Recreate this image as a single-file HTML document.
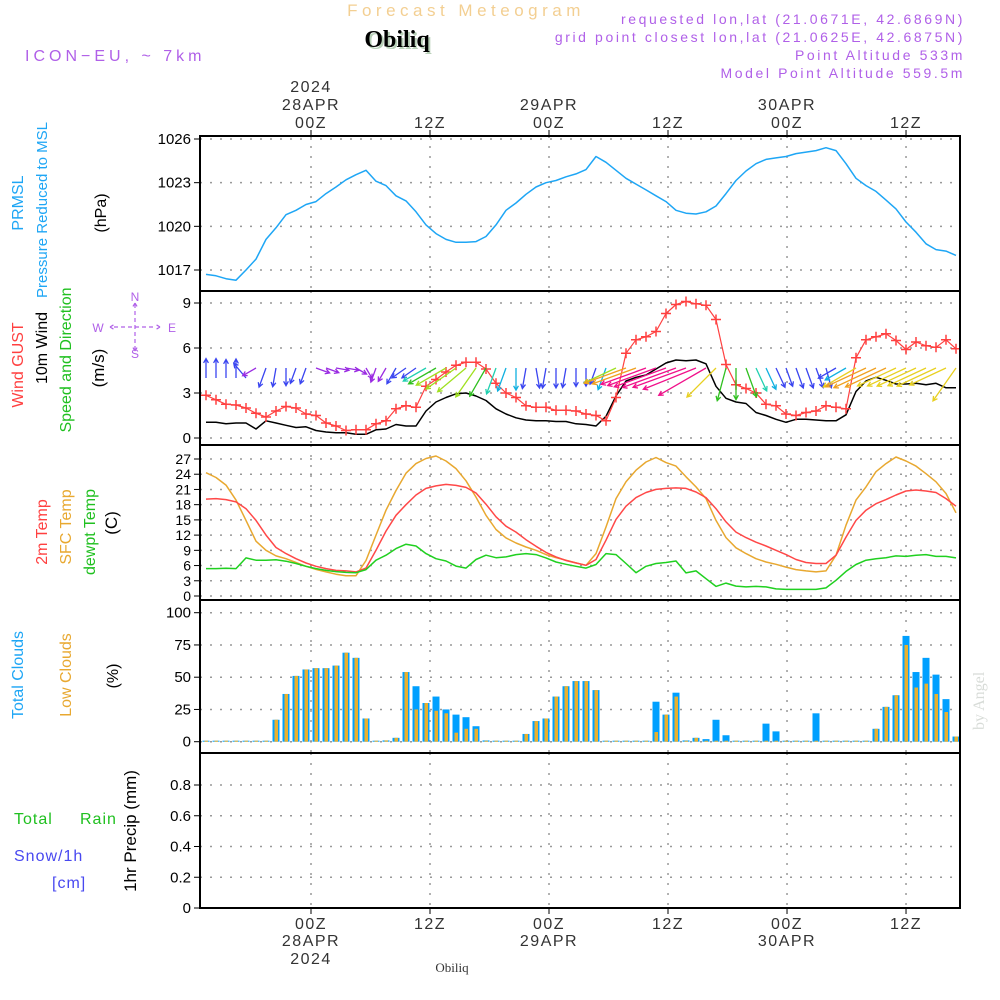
<!DOCTYPE html>
<html><head><meta charset="utf-8">
<style>
html,body{margin:0;padding:0;background:#fff;}
svg{display:block;font-family:"Liberation Sans",sans-serif;}
</style></head>
<body>
<svg id="chart" width="1000" height="1000" viewBox="0 0 1000 1000" xmlns="http://www.w3.org/2000/svg">
<rect x="0" y="0" width="1000" height="1000" fill="#fff"/>
<text x="466" y="16" text-anchor="middle" font-size="17" fill="#f3cf92" letter-spacing="4.5">Forecast Meteogram</text>
<text x="399" y="49" text-anchor="middle" font-size="24" font-weight="bold" font-family="Liberation Serif,serif" fill="#b8d0b8">Obiliq</text>
<text x="397" y="47" text-anchor="middle" font-size="24" font-weight="bold" font-family="Liberation Serif,serif" fill="#000">Obiliq</text>
<text x="25" y="61" font-size="16" fill="#b060e8" letter-spacing="4">ICON−EU, ~ 7km</text>
<g font-size="14" fill="#b060e8" text-anchor="end" letter-spacing="2.6">
<text x="965" y="24">requested lon,lat (21.0671E, 42.6869N)</text>
<text x="965" y="42">grid point closest lon,lat (21.0625E, 42.6875N)</text>
<text x="965" y="60">Point Altitude 533m</text>
<text x="965" y="78">Model Point Altitude 559.5m</text>
</g>
<text transform="translate(984,730) rotate(-90)" font-size="16" fill="#d8dcd8" font-family="Liberation Serif,serif">by Angel</text>
<text x="452" y="972" text-anchor="middle" font-size="13" font-family="Liberation Serif,serif" fill="#333">Obiliq</text>
<g id="labels" font-size="16"></g>
<g id="grid"></g>
<g id="marks"></g>
<g id="frames"></g>
</svg>
<script>
// ---- data (hourly, index 0..75) ----
const pressure = [1016.7,1016.6,1016.4,1016.3,1017.0,1017.75,1019.1,1019.9,1020.8,1021.1,1021.5,1021.7,1022.25,1022.7,1023.2,1023.55,1023.85,1023.1,1022.8,1022.1,1021.75,1021.0,1020.1,1019.5,1019.1,1018.9,1018.9,1018.95,1019.3,1020.1,1021.1,1021.6,1022.2,1022.7,1023.0,1023.15,1023.4,1023.6,1023.9,1024.8,1024.4,1023.85,1023.3,1022.9,1022.5,1022.1,1021.7,1021.1,1020.9,1020.85,1021.0,1021.4,1022.25,1023.15,1023.8,1024.3,1024.6,1024.7,1024.8,1025.0,1025.1,1025.2,1025.4,1025.2,1024.3,1023.3,1022.8,1022.4,1021.8,1021.2,1020.3,1019.6,1018.8,1018.4,1018.3,1018.0];
const gust = [2.85,2.55,2.25,2.2,2.0,1.65,1.4,1.8,2.1,2.0,1.6,1.5,1.0,0.8,0.5,0.55,0.55,0.95,1.15,1.95,2.15,2.05,3.45,3.9,4.4,4.85,5.05,5.05,4.6,3.65,3.0,2.7,2.15,2.05,2.05,1.85,1.85,1.8,1.6,1.5,1.15,2.7,5.65,6.55,6.75,7.1,8.3,8.9,9.1,8.95,8.85,7.9,4.9,3.55,3.3,3.0,2.25,2.15,1.6,1.5,1.7,1.8,2.15,2.05,1.95,5.35,6.55,6.75,6.95,6.5,5.9,6.4,6.15,6.05,6.55,5.95];
const wind10m = [1.05,1.05,0.95,1.0,1.0,0.6,1.15,1.0,0.85,0.7,0.75,0.5,0.4,0.35,0.35,0.25,0.25,0.55,0.6,0.9,0.8,0.8,1.8,2.4,2.7,2.95,3.0,2.8,2.5,1.95,1.6,1.35,1.2,1.15,1.15,1.1,1.1,0.95,0.9,0.8,1.45,2.8,3.8,4.05,4.2,4.6,5.0,5.2,5.15,5.2,4.95,3.45,2.65,2.4,2.3,1.7,1.5,1.25,1.05,1.25,1.25,1.2,1.15,1.15,1.55,3.1,3.8,4.05,3.85,3.6,3.6,3.65,3.55,3.65,3.35,3.35];
const windDirTo = [0,0,0,0,320,240,200,190,180,200,200,110,110,100,100,120,150,200,210,210,235,235,240,240,240,235,230,215,210,200,200,180,190,170,190,180,190,180,180,200,200,245,250,250,250,250,250,250,250,248,240,225,195,180,160,155,155,155,160,160,160,160,165,240,240,240,245,245,245,245,245,245,245,245,245,215];
const temp2m = [19.1,19.2,19.0,18.55,17.2,14.9,12.0,9.55,8.35,7.35,6.5,5.85,5.4,5.05,4.95,4.75,5.5,9.0,12.8,15.9,18.0,19.9,21.2,21.7,22.0,21.8,21.4,20.3,18.1,15.6,13.75,12.6,11.1,9.8,8.6,7.7,7.0,6.5,6.05,7.2,11.0,15.1,17.7,19.4,20.4,21.0,21.2,21.3,21.2,20.5,19.4,17.2,14.6,12.6,11.5,10.6,9.85,9.0,8.15,7.2,6.6,6.4,6.4,8.05,11.6,14.9,16.9,18.2,19.0,19.9,20.7,20.9,20.7,20.4,19.2,17.7];
const tempSfc = [24.3,23.35,21.85,18.9,14.9,10.8,9.0,7.9,7.35,6.6,5.85,5.25,4.75,4.3,4.0,4.0,7.0,12.0,16.9,20.8,24.2,26.1,27.1,27.6,26.6,25.1,22.7,19.5,15.9,13.1,11.45,10.45,9.65,9.0,8.15,7.55,7.05,6.55,6.05,8.35,13.6,19.2,22.5,24.8,26.4,27.3,26.3,25.6,23.5,21.5,19.2,14.9,11.5,9.5,8.35,7.35,6.7,6.25,5.7,5.2,4.95,4.75,4.95,8.05,13.95,18.9,21.5,24.5,26.1,27.4,26.6,25.6,24.1,22.5,20.2,16.4];
const dewpoint = [5.4,5.4,5.45,5.4,7.5,7.05,7.05,7.15,6.85,6.4,5.85,5.4,5.05,4.8,4.65,4.6,5.2,7.05,8.05,9.35,10.2,9.85,8.35,7.35,6.9,5.9,5.5,7.2,8.05,7.55,7.7,8.15,8.35,8.15,7.5,6.7,6.25,5.85,5.5,6.2,8.35,8.15,6.4,4.6,5.85,6.4,6.6,6.9,4.55,4.95,3.4,1.9,2.55,1.95,1.8,1.9,1.8,1.4,1.3,1.3,1.3,1.3,1.6,3.1,4.85,6.2,7.05,7.35,7.55,7.9,7.8,8.05,8.15,7.8,7.8,7.5];
const totalClouds = [0,0,0,0,0,0,0,17,37,51,56,57,57,59,69,65,18,0,1,3,54,43,30,35,25,21,19,12,1,0,0,0,6,16,18,35,43,47,47,40,0,0,0,0,0,31,21,38,1,3,2,17,5,0,0,0,14,8,0,0,0,22,0,0,0,0,0,10,27,36,82,54,65,52,33,4];
const lowClouds = [0,0,0,0,0,0,0,17,37,51,56,57,57,59,69,65,18,0,1,3,54,25,30,24,22,7,10,10,0,0,0,0,6,16,18,35,43,47,47,40,0,0,0,0,0,7.5,21,35,0,3,0,0,0,0,0,0,0,0,0,0,0,0,0,0,0,0,0,10,27,36,75,42,45,37,23,4];
const precip = new Array(76).fill(0);
const pTicks = [1017,1020,1023,1026];
const wTicks = [0,3,6,9];
const tTicks = [0,3,6,9,12,15,18,21,24,27];
const cTicks = [0,25,50,75,100];
const rTicks = [0,0.2,0.4,0.6,0.8];
const timeTickHours = [0,12,24,36,48,60];
const timeTickLabels = ["00Z","12Z","00Z","12Z","00Z","12Z"];
const dateLabels = {0:["28APR","2024"],24:["29APR"],48:["30APR"]};

// ---- scales ----
const NS="http://www.w3.org/2000/svg";
const X0=200, X1=960;
function xi(i){return 206+i*10;}
function xh(h){return 311+h*9.917;}
function lin(d0,d1,r0,r1){return v=>r0+(v-d0)*(r1-r0)/(d1-d0);}
const panels=[
 {top:136,bot:291,y:lin(1017,1026,270,139),ticks:pTicks,name:'pressure'},
 {top:291,bot:445,y:lin(0,9,438,303),ticks:wTicks,name:'wind'},
 {top:445,bot:600,y:lin(0,27,596,459),ticks:tTicks,name:'temperature'},
 {top:600,bot:753,y:lin(0,100,741.7,612.7),ticks:cTicks,name:'clouds'},
 {top:753,bot:908,y:lin(0,0.8,908,785),ticks:rTicks,name:'precip'}
];
function el(tag,attrs,parent,txt){const e=document.createElementNS(NS,tag);for(const k in attrs)e.setAttribute(k,attrs[k]);if(txt!==undefined)e.textContent=txt;parent.appendChild(e);return e;}
const G=document.getElementById('grid'),M=document.getElementById('marks'),F=document.getElementById('frames'),L=document.getElementById('labels');

// grid + ticks
panels.forEach((p,pi)=>{
  p.ticks.forEach(t=>{
    const y=p.y(t);
    const g=el('line',{x1:X0,x2:X1,y1:y,y2:y,stroke:'#999','stroke-dasharray':'2,8','stroke-width':1.5},G);
    
    
    el('line',{x1:X0-6,x2:X0,y1:y,y2:y,stroke:'#000','stroke-width':1},F);
    const lab=el('text',{x:X0-9,y:y+5,'text-anchor':'end','font-size':pi==2?14:15,fill:'#000'},F,String(t));
    
    
  });
  timeTickHours.forEach(h=>{
    const x=xh(h);
    const g=el('line',{x1:x,x2:x,y1:p.top,y2:p.bot,stroke:'#999','stroke-dasharray':'2,8','stroke-width':1.5},G);
    
    
  });
  const fr=el('rect',{x:X0,y:p.top,width:X1-X0,height:p.bot-p.top,fill:'none',stroke:'#000','stroke-width':2},F);
  
  
});
// time axis labels top and bottom
timeTickHours.forEach((h,k)=>{
  const x=xh(h);
  el('line',{x1:x,x2:x,y1:130,y2:136,stroke:'#000'},F);
  el('line',{x1:x,x2:x,y1:908,y2:914,stroke:'#000'},F);
  const t=el('text',{x:x,y:128,'text-anchor':'middle','font-size':16,fill:'#333','letter-spacing':1.5},F,timeTickLabels[k]);
  
  
  const b=el('text',{x:x,y:929,'text-anchor':'middle','font-size':16,fill:'#333','letter-spacing':1.5},F,timeTickLabels[k]);
  
  
  if(dateLabels[h]){
    const d=dateLabels[h];
    const t1=el('text',{x:x,y:110,'text-anchor':'middle','font-size':16,fill:'#333','letter-spacing':1.5},F,d[0]);
    
    
    const b1=el('text',{x:x,y:946,'text-anchor':'middle','font-size':16,fill:'#333','letter-spacing':1.5},F,d[0]);
    
    
    if(d[1]){
      const t2=el('text',{x:x,y:92,'text-anchor':'middle','font-size':16,fill:'#333','letter-spacing':1.5},F,d[1]);
      
      
      const b2=el('text',{x:x,y:964,'text-anchor':'middle','font-size':16,fill:'#333','letter-spacing':1.5},F,d[1]);
      
      
    }
  }
});

function line(arr,yf,color,name,w,dash){
  const pts=arr.map((v,i)=>xi(i).toFixed(1)+','+yf(v).toFixed(1)).join(' ');
  const attrs={points:pts,fill:'none',stroke:color,'stroke-width':w||1.5,'stroke-linejoin':'round'};
  if(dash) attrs['stroke-dasharray']=dash;
  const l=el('polyline',attrs,M);
  
  
}
// panel 1
line(pressure,panels[0].y,'#1ea6f5','pressure-line');
// panel 2
line(wind10m,panels[1].y,'#000','wind-10m-line');
line(gust,panels[1].y,'#ff4040','wind-gust-line',1.2);
gust.forEach((v,i)=>{
  const x=xi(i),y=panels[1].y(v);
  const g=el('path',{d:`M${x-5},${y}H${x+5}M${x},${y-5}V${y+5}`,stroke:'#ff4040','stroke-width':1.5},M);
  
  
});
function speedColor(s){
  if(s<0.7) return '#9a2be2';
  if(s<1.3) return '#3a45f0';
  if(s<1.7) return '#10b0e0';
  if(s<2.2) return '#20d0b0';
  if(s<2.7) return '#30c020';
  if(s<3.1) return '#a0e020';
  if(s<3.7) return '#e8d020';
  if(s<4.1) return '#f0a020';
  return '#f0108a';
}
windDirTo.forEach((d,i)=>{
  const s=wind10m[i];
  const len=10+s*9;
  const a=d*Math.PI/180;
  const dx=Math.sin(a)*len, dy=-Math.cos(a)*len;
  const x0=xi(i), y0= dy<0 ? 378 : 368;
  const x1=x0+dx, y1=y0+dy;
  const c=speedColor(s);
  const ha=Math.atan2(y1-y0,x1-x0);
  const h1x=x1-5*Math.cos(ha-0.5),h1y=y1-5*Math.sin(ha-0.5),h2x=x1-5*Math.cos(ha+0.5),h2y=y1-5*Math.sin(ha+0.5);
  const ar=el('path',{d:`M${x0},${y0}L${x1},${y1}M${h1x},${h1y}L${x1},${y1}L${h2x},${h2y}`,stroke:c,'stroke-width':1.3,fill:'none'},M);
  
  
});
// panel 3
line(tempSfc,panels[2].y,'#e8a830','sfc-temp-line');
line(temp2m,panels[2].y,'#ff4848','temp-2m-line');
line(dewpoint,panels[2].y,'#20d020','dewpoint-line');
// panel 4
totalClouds.forEach((v,i)=>{
  const y=panels[3].y, x=xi(i);
  const b=el('rect',{x:x-3.5,y:Math.min(y(v),y(0)-1),width:7,height:Math.max(y(0)-y(v),1),fill:'#00a0ff'},M);
  
  
  const lv=lowClouds[i];
  const o=el('rect',{x:x-1.5,y:Math.min(y(lv),y(0)-1),width:3.5,height:Math.max(y(0)-y(lv),1),fill:'#e8b030'},M);
  
  
});
// panel 5
line(precip,panels[4].y,'#000','precip-line',1.5,'5,3');

// left labels
function vlab(txt,x,cy,color,name,size){
  const t=el('text',{transform:`translate(${x},${cy}) rotate(-90)`,'text-anchor':'middle',fill:color,'font-size':size||16},L,txt);
  
  
}
vlab('PRMSL',23,203,'#1ea6f5','prmsl-label');
vlab('Pressure Reduced to MSL',47,210,'#1ea6f5','pressure-label',15);
vlab('(hPa)',106,213,'#000','hpa-unit-label');
vlab('Wind GUST',23,365,'#ff4040','wind-gust-label');
vlab('10m Wind',47,348,'#000','wind-10m-label');
vlab('Speed and Direction',71,360,'#20c020','speed-direction-label');
vlab('(m/s)',104,368,'#000','ms-unit-label',17);
vlab('2m Temp',47,532,'#ff4040','temp-2m-label');
vlab('SFC Temp',71,527,'#e8a830','sfc-temp-label');
vlab('dewpt Temp',95,532,'#20c020','dewpt-temp-label');
vlab('(C)',117,523,'#000','c-unit-label',17);
vlab('Total Clouds',23,675,'#1ea6f5','total-clouds-label');
vlab('Low Clouds',71,675,'#e8a830','low-clouds-label');
vlab('(%)',118,676,'#000','pct-unit-label');
vlab('1hr Precip (mm)',136,831,'#000','precip-unit-label',17);
[['Total',14,824,'#20c020','total-rain-label'],['Rain',80,824,'#20c020','rain-label'],['Snow/1h',14,861,'#4848f0','snow-label'],['[cm]',52,888,'#4848f0','cm-label']].forEach(a=>{
  const t=el('text',{x:a[1],y:a[2],fill:a[3],'font-size':16,'letter-spacing':1},L,a[0]);
  
  
});
// compass
const C=el('g',{fill:'#b060e8','font-size':12,stroke:'none'},L);


el('text',{x:135,y:301,'text-anchor':'middle'},C,'N');
el('text',{x:135,y:358,'text-anchor':'middle'},C,'S');
el('text',{x:98,y:332,'text-anchor':'middle'},C,'W');
el('text',{x:172,y:332,'text-anchor':'middle'},C,'E');
el('path',{d:'M135,304V350M114,327H156M110,327l5,-3M110,327l5,3M160,327l-5,-3M160,327l-5,3M135,303l-3,5M135,303l3,5M135,351l-3,-5M135,351l3,-5',stroke:'#b060e8','stroke-width':1.2,'stroke-dasharray':'4,3',fill:'none'},C);
</script>
</body></html>
